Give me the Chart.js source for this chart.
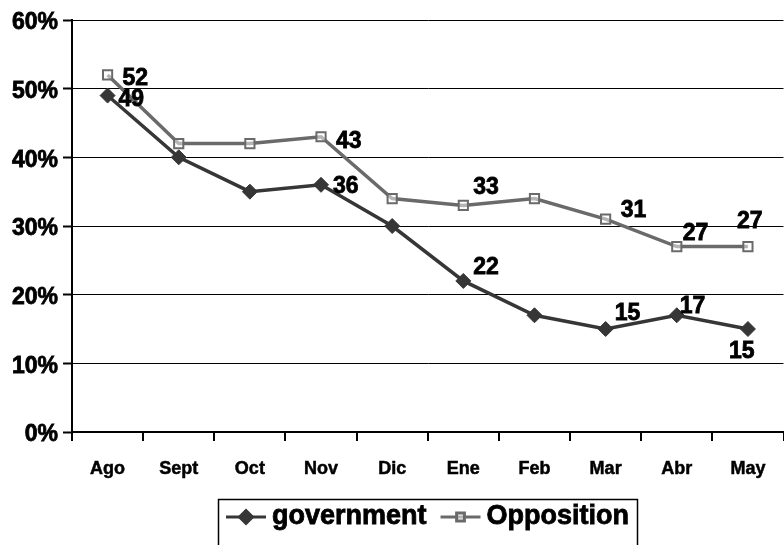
<!DOCTYPE html>
<html>
<head>
<meta charset="utf-8">
<script src="https://cdn.jsdelivr.net/npm/chart.js@4.4.1/dist/chart.umd.min.js"></script>
<style>
    html, body { margin: 0; padding: 0; background: #fff; overflow: hidden; }
    #wrap { width: 792px; height: 545px; }
</style>
</head>
<body>
<div id="wrap"><canvas id="pollChart" width="792" height="545"></canvas></div>
<script>
// Data
const months = ['Ago', 'Sept', 'Oct', 'Nov', 'Dic', 'Ene', 'Feb', 'Mar', 'Abr', 'May'];
const government = [49, 40, 35, 36, 30, 22, 17, 15, 17, 15];
const opposition = [52, 42, 42, 43, 34, 33, 34, 31, 27, 27];
const yTicks = [0, 10, 20, 30, 40, 50, 60];

// Which points get a value label, and the label's offset [dx, dy] from the point
const govLabelOffsets = [[11, 4], null, null, [12, 2], null, [10, -13], null, [9, -15], [3, -9], [-19, 23]];
const oppLabelOffsets = [[15, 4], null, null, [15, 5], null, [10, -18], null, [15, -8], [6, -13], [-11, -25]];

const FONT = '"Liberation Sans", Arial, sans-serif';

// Draw the value labels next to selected points
const valueLabels = {
    id: 'valueLabels',
    afterDatasetsDraw(chart) {
        const ctx = chart.ctx;
        ctx.save();
        ctx.font = 'bold 23px ' + FONT;
        ctx.fillStyle = '#000';
        ctx.strokeStyle = '#000';
        ctx.lineWidth = 0.8;
        ctx.textAlign = 'left';
        ctx.textBaseline = 'middle';
        chart.data.datasets.forEach((ds, i) => {
            const meta = chart.getDatasetMeta(i);
            meta.data.forEach((pt, j) => {
                const off = ds.labelOffsets[j];
                if (!off) return;
                const txt = String(ds.data[j]);
                ctx.fillText(txt, pt.x + off[0], pt.y + off[1]);
                ctx.strokeText(txt, pt.x + off[0], pt.y + off[1]);
            });
        });
        ctx.restore();
    }
};

// Boxed legend under the chart (line + marker sample, then the name)
const legendBox = {
    id: 'legendBox',
    afterDraw(chart) {
        const ctx = chart.ctx;
        const area = chart.chartArea;
        const sets = chart.data.datasets;
        const sampleW = 40, gapText = 6, gapItem = 14, padX = 8;
        ctx.save();
        ctx.font = 'bold 27px ' + FONT;
        const widths = sets.map(ds => ctx.measureText(ds.label).width);
        let total = padX * 2 + gapItem * (sets.length - 1);
        widths.forEach(w => { total += sampleW + gapText + w; });
        const top = 499;
        const left = Math.round((area.left + area.right) / 2 - total / 2);

        ctx.strokeStyle = '#000';
        ctx.lineWidth = 1.5;
        ctx.strokeRect(left + 0.5, top + 0.5, total, 70);

        let x = left + padX;
        const lineY = top + 18;
        sets.forEach((ds, i) => {
            ctx.strokeStyle = ds.borderColor;
            ctx.lineWidth = 3;
            ctx.beginPath();
            ctx.moveTo(x, lineY);
            ctx.lineTo(x + sampleW, lineY);
            ctx.stroke();
            ctx.fillStyle = ds.pointBackgroundColor;
            ctx.strokeStyle = ds.borderColor;
            Chart.helpers.drawPoint(ctx, {
                pointStyle: ds.pointStyle,
                radius: ds.legendRadius,
                borderWidth: ds.pointBorderWidth,
                rotation: 0
            }, x + sampleW / 2, lineY);
            x += sampleW + gapText;
            ctx.fillStyle = '#000';
            ctx.strokeStyle = '#000';
            ctx.lineWidth = 0.8;
            ctx.textAlign = 'left';
            ctx.textBaseline = 'alphabetic';
            ctx.fillText(ds.label, x, top + 25);
            ctx.strokeText(ds.label, x, top + 25);
            x += widths[i] + gapItem;
        });
        ctx.restore();
    }
};

const chart = new Chart(document.getElementById('pollChart'), {
    type: 'line',
    data: {
        labels: months,
        datasets: [
            {
                label: 'government',
                data: government,
                labelOffsets: govLabelOffsets,
                borderColor: '#363636',
                borderWidth: 3.5,
                pointStyle: 'rectRot',
                pointRadius: 7.5,
                legendRadius: 6.5,
                pointBackgroundColor: '#363636',
                pointBorderColor: '#363636',
                pointBorderWidth: 1,
                tension: 0
            },
            {
                label: 'Opposition',
                data: opposition,
                labelOffsets: oppLabelOffsets,
                borderColor: '#6a6a6a',
                borderWidth: 3.5,
                pointStyle: 'rect',
                pointRadius: 6.5,
                legendRadius: 5.5,
                pointBackgroundColor: 'rgba(255,255,255,0.5)',
                pointBorderColor: '#6a6a6a',
                pointBorderWidth: 2,
                tension: 0
            }
        ]
    },
    options: {
        responsive: false,
        animation: false,
        layout: { padding: { top: 20, right: 2, left: 0, bottom: 0 } },
        plugins: {
            legend: { display: false },
            tooltip: { enabled: false }
        },
        scales: {
            x: {
                offset: true,
                grid: {
                    offset: true,
                    drawOnChartArea: false,
                    drawTicks: true,
                    tickLength: 9,
                    color: '#000',
                    lineWidth: 2
                },
                border: { display: true, color: '#000', width: 2 },
                ticks: {
                    color: '#000',
                    padding: 17,
                    textStrokeColor: '#000',
                    textStrokeWidth: 0.5,
                    font: { family: FONT, size: 18, weight: 'bold' },
                    maxRotation: 0,
                    autoSkip: false
                },
                afterFit(scale) { scale.height = 113; }
            },
            y: {
                min: 0,
                max: 60,
                afterBuildTicks(scale) {
                    scale.ticks = yTicks.map(v => ({ value: v }));
                },
                grid: {
                    color: '#000',
                    lineWidth: 1,
                    drawTicks: true,
                    tickLength: 9,
                    tickWidth: 2
                },
                border: { display: true, color: '#000', width: 2 },
                ticks: {
                    color: '#000',
                    padding: 5,
                    labelOffset: 3,
                    textStrokeColor: '#000',
                    textStrokeWidth: 0.8,
                    font: { family: FONT, size: 23, weight: 'bold' },
                    callback: v => v + '%'
                },
                afterFit(scale) { scale.width = 72; }
            }
        }
    },
    plugins: [valueLabels, legendBox]
});
</script>
</body>
</html>
